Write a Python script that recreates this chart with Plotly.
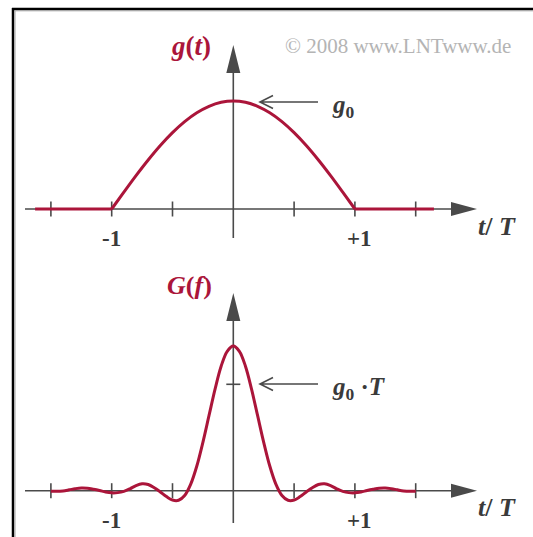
import plotly.graph_objects as go

# ---- data -------------------------------------------------------------
# time-domain cosine pulse g(t)/g0 (zero outside |t/T| < 1)
t_flat = [-1.63, -1.0, None, 1.0, 1.65]
g_flat = [0.0, 0.0, None, 0.0, 0.0]
t_pulse = [-1.0, -0.9, -0.8, -0.7, -0.6, -0.5, -0.4, -0.3, -0.2, -0.1, 0.0,
           0.1, 0.2, 0.3, 0.4, 0.5, 0.6, 0.7, 0.8, 0.9, 1.0]
g_pulse = [0.0, 0.156, 0.309, 0.454, 0.588, 0.707, 0.809, 0.891, 0.951, 0.988, 1.0,
           0.988, 0.951, 0.891, 0.809, 0.707, 0.588, 0.454, 0.309, 0.156, 0.0]

# spectrum G(f) in units of g0*T
f_spec = [-1.5, -1.45, -1.4, -1.35, -1.3, -1.25, -1.2, -1.15, -1.1, -1.05,
          -1.0, -0.95, -0.9, -0.85, -0.8, -0.75, -0.7, -0.65, -0.6, -0.55,
          -0.5, -0.45, -0.4, -0.35, -0.3, -0.25, -0.2, -0.15, -0.1, -0.05,
          0.0,
          0.05, 0.1, 0.15, 0.2, 0.25, 0.3, 0.35, 0.4, 0.45, 0.5,
          0.55, 0.6, 0.65, 0.7, 0.75, 0.8, 0.85, 0.9, 0.95, 1.0,
          1.05, 1.1, 1.15, 1.2, 1.25, 1.3, 1.35, 1.4, 1.45, 1.5]
G_spec = [-0.004, -0.006, -0.002, 0.008, 0.019, 0.026, 0.024, 0.014, 0.002, -0.012,
          -0.020, -0.018, -0.006, 0.018, 0.048, 0.065, 0.058, 0.028, -0.012, -0.055,
          -0.088, -0.090, -0.045, 0.062, 0.232, 0.455, 0.705, 0.955, 1.17, 1.31,
          1.36,
          1.31, 1.17, 0.955, 0.705, 0.455, 0.232, 0.062, -0.045, -0.090, -0.088,
          -0.055, -0.012, 0.028, 0.058, 0.065, 0.048, 0.018, -0.006, -0.018, -0.020,
          -0.012, 0.002, 0.014, 0.024, 0.026, 0.019, 0.008, -0.002, -0.006, -0.004]

tick_vals = [-1.5, -1.0, -0.5, 0.5, 1.0, 1.5]
tick_labels = {-1.0: "-1", 1.0: "+1"}

# ---- geometry (pixels) ---------------------------------------------------
W, H = 533, 537
X0, XU = 233.3, 121.6          # pixel of t=0, pixels per unit
Y0_TOP, YU_TOP = 209.0, 108.0  # top panel baseline and unit height
Y0_BOT, YU_BOT = 490.7, 106.4  # bottom panel baseline and unit height
TOP_DOM = (20, 262)
BOT_DOM = (272, 537)

RED = "#ab153a"
AX = "#4a4a4a"
SERIF = "Liberation Serif, Times New Roman, serif"


def PX(x):
    return x / W


def PY(y):
    return 1 - y / H


xr = [-X0 / XU, (W - X0) / XU]
yr_top = [(Y0_TOP - TOP_DOM[1]) / YU_TOP, (Y0_TOP - TOP_DOM[0]) / YU_TOP]
yr_bot = [(Y0_BOT - BOT_DOM[1]) / YU_BOT, (Y0_BOT - BOT_DOM[0]) / YU_BOT]

fig = go.Figure()

line_style = dict(color=RED, width=3)
fig.add_trace(go.Scatter(x=t_flat, y=g_flat, mode="lines", line=line_style,
                         xaxis="x", yaxis="y", hoverinfo="skip"))
fig.add_trace(go.Scatter(x=t_pulse, y=g_pulse, mode="lines", line=dict(line_style, shape="spline"),
                         xaxis="x", yaxis="y", hoverinfo="skip"))
fig.add_trace(go.Scatter(x=f_spec, y=G_spec, mode="lines", line=dict(line_style, shape="spline"),
                         xaxis="x2", yaxis="y2", hoverinfo="skip"))

hidden = dict(visible=False, showgrid=False, zeroline=False, fixedrange=True)
fig.update_layout(
    width=W, height=H,
    margin=dict(l=0, r=0, t=0, b=0),
    paper_bgcolor="white", plot_bgcolor="white",
    showlegend=False,
    xaxis=dict(hidden, range=xr, domain=[0, 1], anchor="y"),
    yaxis=dict(hidden, range=yr_top, domain=[PY(TOP_DOM[1]), PY(TOP_DOM[0])], anchor="x"),
    xaxis2=dict(hidden, range=xr, domain=[0, 1], anchor="y2"),
    yaxis2=dict(hidden, range=yr_bot, domain=[PY(BOT_DOM[1]), PY(BOT_DOM[0])], anchor="x2"),
)

shapes = []
annotations = []


def tri(p1, p2, p3):
    return ("M {:.5f},{:.5f} L {:.5f},{:.5f} L {:.5f},{:.5f} Z"
            .format(PX(p1[0]), PY(p1[1]), PX(p2[0]), PY(p2[1]), PX(p3[0]), PY(p3[1])))


def axes_for(xref, yref, y0px, vbot, vtip):
    # horizontal axis with filled arrow head
    shapes.append(dict(type="line", xref="paper", yref="paper",
                       x0=PX(25), x1=PX(460), y0=PY(y0px), y1=PY(y0px),
                       line=dict(color=AX, width=1.6), layer="below"))
    shapes.append(dict(type="path", xref="paper", yref="paper",
                       path=tri((477, y0px), (451, y0px - 7), (451, y0px + 7)),
                       fillcolor=AX, line=dict(width=0)))
    # vertical axis with filled arrow head
    shapes.append(dict(type="line", xref="paper", yref="paper",
                       x0=PX(X0), x1=PX(X0), y0=PY(vbot), y1=PY(vtip + 15),
                       line=dict(color=AX, width=1.6), layer="below"))
    shapes.append(dict(type="path", xref="paper", yref="paper",
                       path=tri((X0, vtip), (X0 - 7, vtip + 28), (X0 + 7, vtip + 28)),
                       fillcolor=AX, line=dict(width=0)))
    # ticks crossing the time axis
    for tv in tick_vals:
        shapes.append(dict(type="line", xref=xref, yref=yref, x0=tv, x1=tv,
                           ysizemode="pixel", yanchor=0, y0=-7.5, y1=7.5,
                           line=dict(color=AX, width=1.6), layer="below"))
        if tv in tick_labels:
            annotations.append(dict(x=tv + (0.04 if tv > 0 else 0), y=0, xref=xref, yref=yref,
                                    yshift=-30, showarrow=False,
                                    text="<b>" + tick_labels[tv] + "</b>",
                                    font=dict(family=SERIF, size=23, color="#3a3a3a")))
    annotations.append(dict(x=PX(497), y=PY(y0px + 17), xref="paper", yref="paper",
                            showarrow=False, text="<b><i>t</i>/ <i>T</i></b>",
                            font=dict(family=SERIF, size=26, color="#3a3a3a")))


axes_for("x", "y", Y0_TOP, 238, 45)
axes_for("x2", "y2", Y0_BOT, 523, 293)

# tick on the G(f) axis at g0*T
shapes.append(dict(type="line", xref="x2", yref="y2", xsizemode="pixel", xanchor=0,
                   x0=-7, x1=7, y0=1.0, y1=1.0, line=dict(color=AX, width=1.6)))


def pointer(ypx):
    # thin arrow pointing left toward the curve
    path = ("M {a},{y} L {b},{y} M {c},{u} L {b},{y} L {c},{d}"
            .format(a=PX(318), b=PX(260), c=PX(273), y=PY(ypx), u=PY(ypx - 6.5), d=PY(ypx + 6.5)))
    shapes.append(dict(type="path", xref="paper", yref="paper", path=path,
                       line=dict(color=AX, width=1.6)))


pointer(102)
pointer(384)

# frame
shapes += [
    dict(type="line", xref="paper", yref="paper", x0=PX(12), x1=1, y0=PY(9), y1=PY(9),
         line=dict(color="black", width=2.5)),
    dict(type="line", xref="paper", yref="paper", x0=PX(15), x1=1, y0=PY(10.8), y1=PY(10.8),
         line=dict(color="#a0a0a0", width=1)),
    dict(type="line", xref="paper", yref="paper", x0=PX(13), x1=PX(13), y0=PY(8), y1=0,
         line=dict(color="black", width=2.5)),
    dict(type="line", xref="paper", yref="paper", x0=PX(15), x1=PX(15), y0=PY(11), y1=0,
         line=dict(color="#a0a0a0", width=1)),
]

annotations += [
    dict(x=PX(191), y=PY(46), text="<b><i>g</i>(<i>t</i>)</b>",
         font=dict(family=SERIF, size=27, color=RED)),
    dict(x=PX(398), y=PY(46), text="© 2008 www.LNTwww.de",
         font=dict(family=SERIF, size=21, color="#b4b4b4")),
    dict(x=PX(343), y=PY(106), text="<b><i>g</i><sub>0</sub></b>",
         font=dict(family=SERIF, size=25, color="#3a3a3a")),
    dict(x=PX(189), y=PY(285), text="<b><i>G</i>(<i>f</i>)</b>",
         font=dict(family=SERIF, size=26, color=RED)),
    dict(x=PX(359), y=PY(388), text="<b><i>g</i><sub>0</sub> ·<i>T</i></b>",
         font=dict(family=SERIF, size=25, color="#3a3a3a")),
]
for a in annotations:
    a.setdefault("xref", "paper")
    a.setdefault("yref", "paper")
    a.setdefault("showarrow", False)
    a["xanchor"] = "center"
    a["yanchor"] = "middle"

fig.update_layout(shapes=shapes, annotations=annotations)
fig.write_html("out.html")
